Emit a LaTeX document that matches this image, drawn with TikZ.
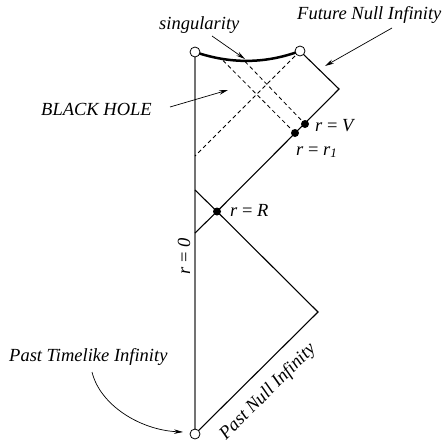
\documentclass[tikz,border=0pt]{standalone}
\usepackage{fontspec}
\setmainfont{Liberation Serif}
\usetikzlibrary{arrows.meta}
\begin{document}
\begin{tikzpicture}[x=1pt,y=-1pt,
  lbl/.style={font=\fontsize{18.5}{22}\selectfont\itshape, inner sep=0pt},
  hollow/.style={circle, draw, fill=white, line width=0.8pt, minimum size=10pt, inner sep=0pt},
  dot/.style={circle, fill=black, minimum size=8pt, inner sep=0pt},
  edgeline/.style={line width=1.1pt},
  axisline/.style={line width=2pt, draw=black!55},
  dashline/.style={line width=0.8pt, dash pattern=on 4pt off 3pt},
  ptr/.style={line width=0.7pt, -{Stealth[length=9pt,width=4.5pt]}},
]
\useasboundingbox (0,0) rectangle (446,442);
% coordinates
\coordinate (E) at (339,89);
\coordinate (B) at (318,312);
\coordinate (A1) at (195,233);
\coordinate (A2) at (195,190);
\coordinate (D1) at (195,156);
\coordinate (S1) at (223,60.5);
\coordinate (S2) at (245,61.5);
% axis r=0
\draw[axisline] (195,52) -- (195,434);
% dashed
\draw[dashline] (300,51) -- (D1);
\draw[dashline] (S1) -- (295,133);
\draw[dashline] (S2) -- (305,124);
% solid null lines
\draw[edgeline] (300,51) -- (E) -- (217,211.5) -- (A1);
\draw[edgeline] (A2) -- (217,211.5) -- (B) -- (195,434);
% singularity
\draw[line width=2.5pt] (195,52) .. controls (230,64) and (265,64) .. (300,51);
% nodes
\node[hollow] (TL) at (195,52) {};
\node[hollow] (TR) at (300,51) {};
\node[hollow] (O) at (195,434) {};
\node[dot] (V) at (305,124) {};
\node[dot] (R1) at (295,133) {};
\node[dot] (R) at (217,211.5) {};
% labels
\node[lbl, anchor=base west] (sing) at (159,29) {singularity};
\node[lbl, anchor=base west] (fni) at (297,19) {Future Null Infinity};
\node[lbl, anchor=base west] (bh) at (41,115) {BLACK HOLE};
\node[lbl, anchor=base west] (lv) at (315,131) {r \upshape= \itshape V};
\node[lbl, anchor=base west] (lr1) at (296,155) {r \upshape= \itshape r\textsubscript{1}};
\node[lbl, anchor=base west] (lR) at (230,216) {r \upshape= \itshape R};
\node[lbl, rotate=90] (l0) at (184,256) {r \upshape= \itshape 0};
\node[lbl, anchor=base west] (pti) at (9,361) {Past Timelike Infinity};
\node[lbl, rotate=45] (pni) at (268,392) {Past Null Infinity};
% pointers
\coordinate (sA) at (212,36);
\coordinate (sB) at (245,59);
\draw[ptr] (sA) -- (sB);
\coordinate (fA) at (392,28);
\coordinate (fB) at (325,66);
\draw[ptr] (fA) -- (fB);
\coordinate (bA) at (170,107);
\coordinate (bB) at (228,90);
\draw[ptr] (bA) -- (bB);
\coordinate (pA) at (92,372);
\coordinate (pB) at (183,432);
\draw[ptr] (pA) .. controls (100,405) and (140,430) .. (pB);
\end{tikzpicture}
\end{document}
